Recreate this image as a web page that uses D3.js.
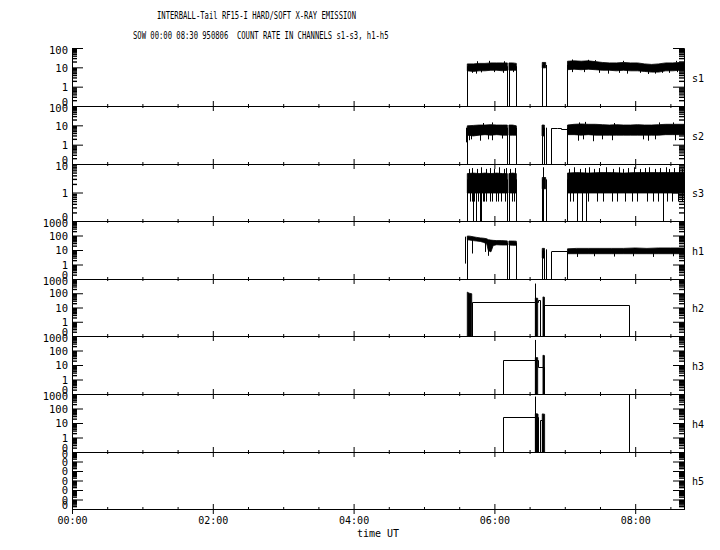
<!DOCTYPE html>
<html>
<head>
<meta charset="utf-8">
<script src="https://cdn.jsdelivr.net/npm/d3@7"></script>
<style>
body { margin: 0; background: #fff; }
svg { display: block; }
text { font-family: "DejaVu Sans Mono", monospace; fill: #000; }
</style>
</head>
<body>
<svg id="chart" width="720" height="550"></svg>
<script>
// ---- data (time in minutes after 00:00 UT, values in counts) ----
var channels = ["s1", "s2", "s3", "h1", "h2", "h3", "h4", "h5"];
var yMax = [100, 100, 10, 1000, 1000, 1000, 1000, 0.1];
var yMin = [0.1, 0.1, 0.1, 0.1, 0.1, 0.1, 0.1, 1e-7];
var xMajorTicks = [0, 120, 240, 360, 480];
var xMinorTicks = [30, 60, 90, 150, 180, 210, 270, 300, 330, 390, 420, 450, 510];
var xTickLabels = ["00:00", "02:00", "04:00", "06:00", "08:00"];
var tEnd = 521.6;

// bands: segments of [t, low, high]
var s1Band = [
  [[336.9,7,16],[342,6.5,16],[347,7,17],[352,7,17],[357,7.5,18],[362,7.5,18],[367,7,18],[371,7.5,18]],
  [[372.4,7.5,18],[375.5,7.5,18],[378.7,7.5,17]],
  [[400.8,10,19],[403.7,10,19]],
  [[422.3,8,22],[428,8.5,23],[434,8,22],[440,8.5,23],[446,8,21],[452,7.5,19],[458,7.5,18],[464,7,18],[470,7.5,19],
   [476,7,18],[482,7,18],[488,6.5,16],[494,6,15],[500,6,16],[506,7,18],[512,7,18],[518,7.5,19],[521.6,7.5,19]]
];
// vertical strokes: [t, from, to]
var s1Spikes = [
  [336.9,0,12],[371,0,12],[372.4,0,12],[378.7,0,12],[400.8,0,14],[403.7,0,14],[422.3,0,14],
  [341,5.5,8],[344.5,5,8],[349,5.8,8],[360,6,8.5],[367,5.5,8],[376,6,8.5],[426,6,9],[436,6,9],[449,5.5,8],
  [457,5,8],[466,5.5,8],[473,5,8],[484,5.5,8],[491,4.8,7],[497,5,7],[503,5.5,8],[509,5.5,8],[516,6,8.5],
  [345,16,22],[355,17,23],[368,17,22],[426,22,27],[440,22,26],[446,21,25],[470,19,23],[515,19,23]
];

var s2Band = [
  [[336.9,3.3,10],[342,3,10.5],[347,3.3,11],[352,3.5,11],[357,3.3,11.5],[362,3.5,11],[367,3.3,11],[371,3.3,11]],
  [[372.4,3.3,11],[375.5,3.3,11],[378.7,3.3,10]],
  [[400.6,3,11],[402.6,3,11]],
  [[422.3,3.5,11],[428,3.5,12],[434,3.3,12.5],[440,3.5,12],[446,3.3,12],[452,3.3,11.5],[458,3.3,11],[464,3.3,11.5],
   [470,3.3,11],[476,3.3,11],[482,3.3,11.5],[488,3.3,11],[494,3.3,11],[500,3.3,11.5],[506,3.5,12],[512,3.5,12],[521.6,3.5,12]]
];
var s2Steps = [[408.5,7.4],[413,7],[417,6.5],[422.3,6]];
var s2Spikes = [
  [335.5,1.4,8],[336.9,0,8],[371,0,8],[372.4,0,8],[378.7,0,8],[400.6,0,8],[402.6,0,8],[404.3,0,8],[408.5,0,7.4],[422.3,0,8],
  [338.4,1.8,4],[340,2,4],[347.7,1.7,4],[354.8,2,4],[357.7,1.8,4],[366.2,2.2,4],
  [431.5,1.7,4],[435.8,2,4],[444.3,1.6,4],[451.4,2,4],[460,1.8,4],[486.9,2,4],[491.2,1.7,4],[496.9,2,4],[513.9,1.8,4],
  [350,11,14],[358,11.5,15],[432,12,15],[437,12,16],[462,11,14],[500,11.5,15],[512,12,15]
];

var s3Band = [
  [[336.9,1,4.8],[342,1,5],[347,1,4.8],[352,1,5],[357,1,4.8],[362,1,5],[367,1,4.8],[371,1,4.8]],
  [[372.4,1,4.8],[375.5,1,5],[378.7,1,4.8]],
  [[400.8,1.4,3.5],[403.7,1.4,3.5]],
  [[422.3,1,5],[430,1,5.2],[440,1,5],[450,1,5.2],[460,1,5.2],[470,1,5],[480,1,5.2],[490,1,5.2],[500,1,5.2],[510,1,5.2],[521.6,1,5.2]]
];
var s3Spikes = [
  [336.9,0,3],[371,0,3],[372.4,0,3],[378.7,0,3],[400.8,0,3],[401.5,0,8],[403.7,0,3],[422.3,0,3],
  [342,0,1],[344,0,1],[347.7,0,1],[348.8,0,1],[430.7,0,1],[434.4,0,1],[438.1,0,1],[504,0,1],
  [339,0.5,1],[341,0.5,1],[343,0.5,1],[346,0.5,1],[350,0.5,1],[351.5,0.5,1],[353,0.5,1],[356,0.5,1],[358,0.5,1],
  [361,0.5,1],[363.5,0.5,1],[366,0.5,1],[369,0.5,1],[375,0.5,1],[377,0.5,1],
  [424.4,0.5,1],[427.3,0.5,1],[440,0.5,1],[447.2,0.5,1],[452.8,0.5,1],[459.9,0.5,1],[464.2,0.5,1],[471.3,0.5,1],
  [477,0.5,1],[481.2,0.5,1],[489.8,0.5,1],[495.4,0.5,1],[499.7,0.5,1],[506.8,0.5,1],[511.1,0.5,1],[516.8,0.5,1],[519.6,0.5,1],
  [338,4,7],[340.5,4,7.5],[345,4,7],[349,4,8],[352.5,4,7],[356.5,4,7.5],[360,4,7],[364,4,8],[368,4,7],[370,4,7.5],[373,4,7],[377.5,4,7.5],
  [424,4,7],[428,4,8],[433,4,7],[437,4,7.5],[441,4,8],[445,4,7],[449,4,7.5],[455,4,8],[461,4,7],[466,4,8],[470,4,7],
  [474,4,7.5],[479,4,8],[484,4,7],[488,4,7.5],[492,4,8],[497,4,7],[501,4,7.5],[506,4,8],[509,4,7],[513,4,7.5],[517,4,8],[520,4,7]
];

var h1Band = [
  [[336.9,55,100],[339,52,98],[342,48,88],[345,45,80],[348,42,74],[351,36,70],[353.5,28,64],[354.8,10,56],[357,8,52],
   [359,22,50],[362,25,48],[366,24,48],[371,24,46]],
  [[372.4,24,45],[375.5,23,45],[378.7,23,44]],
  [[400.8,3,14],[402.7,3,14]],
  [[422.3,6,13],[430,6,14],[440,6,14],[450,6,14],[460,6,14],[470,6,14],[480,6,15],[490,6,14],[500,6,15],[510,6,15],[521.6,6,15]]
];
var h1Steps = [[408.5,8.1],[422.3,8.1]];
var h1Spikes = [
  [335.2,1.25,90],[336.9,0,80],[340.7,6.2,60],[352,8,40],[354.3,4.3,40],[371,0,35],[372.4,0,35],[378.7,0,35],
  [400.8,0,10],[402.7,0,10],[404.3,0,12],[408.5,0,8.1],[422.3,0,8.1],
  [430,3.6,7],[445,4,7],[462,3.8,7],[478,4,7],[495,3.6,7],[512,4,7]
];

var h2Band = [
  [[336.9,0,130],[338.5,0,110],[340.7,0,100]],
  [[394.9,0,50],[396.9,0,48]],
  [[401.4,0,60],[402.7,0,57]]
];
var h2Steps = [[0,0],[340.7,24],[396.9,33],[399.1,0],[402.7,14],[475,0],[tEnd,0]];
var h2Spikes = [[394.9,0,520]];

var h3Band = [
  [[394.9,0,35],[396.9,0,35]],
  [[401.4,0,51],[402.7,0,48]]
];
var h3Steps = [[0,0],[367.6,22],[396.9,7.5],[402.7,0],[tEnd,0]];
var h3Spikes = [[394.9,0,580]];

var h4Band = [
  [[394.9,0,48],[397.2,0,45]],
  [[400.8,0,46],[402.8,0,44]]
];
var h4Steps = [[0,0],[367.6,24],[397.2,0],[399.1,15.6],[400.8,0],[tEnd,0]];
var h4Spikes = [[394.9,0,720],[475,0,5000]];

var panels = {
  s1: { band: s1Band, steps: null, spikes: s1Spikes },
  s2: { band: s2Band, steps: s2Steps, spikes: s2Spikes },
  s3: { band: s3Band, steps: null, spikes: s3Spikes },
  h1: { band: h1Band, steps: h1Steps, spikes: h1Spikes },
  h2: { band: h2Band, steps: h2Steps, spikes: h2Spikes },
  h3: { band: h3Band, steps: h3Steps, spikes: h3Spikes },
  h4: { band: h4Band, steps: h4Steps, spikes: h4Spikes },
  h5: { band: [], steps: null, spikes: [] }
};

// ---- layout ----
var svg = d3.select("#chart");
var plotLeft = 72, plotRight = 684, plotTop = 48.4, panelH = 57.6;
var x = d3.scaleLinear().domain([0, tEnd]).range([plotLeft, plotRight]);
var fmt = d3.format("d");

// titles
svg.append("text").attr("x", 157).attr("y", 18.5)
  .attr("font-size", 9.8).attr("textLength", 199).attr("lengthAdjust", "spacingAndGlyphs")
  .text("INTERBALL-Tail RF15-I HARD/SOFT X-RAY EMISSION");
svg.append("text").attr("x", 133).attr("y", 39)
  .attr("font-size", 9.8).attr("textLength", 255.5).attr("lengthAdjust", "spacingAndGlyphs")
  .style("white-space", "pre")
  .text("SOW 00:00 08:30 950806  COUNT RATE IN CHANNELS s1-s3, h1-h5");

channels.forEach(function(name, i) {
  // whole-pixel panel edges keep the frame lines crisp
  var top = Math.round(plotTop + i * panelH), bottom = Math.round(plotTop + (i + 1) * panelH);
  var lo = yMin[i];
  var y = d3.scaleLog().domain([lo, yMax[i]]).range([bottom, top]).clamp(true);
  var yv = function(v) { return y(Math.max(v, lo)); };
  var d = panels[name];

  var clipId = "clip-" + name;
  svg.append("clipPath").attr("id", clipId).append("rect")
    .attr("x", plotLeft).attr("y", top).attr("width", plotRight - plotLeft + 1).attr("height", bottom - top + 1);
  var g = svg.append("g").attr("clip-path", "url(#" + clipId + ")")
    .append("g").attr("transform", "translate(0,0.5)");

  var area = d3.area()
    .x(function(p) { return x(p[0]); })
    .y0(function(p) { return yv(p[1]); })
    .y1(function(p) { return yv(p[2]); });
  g.selectAll("path.band").data(d.band).enter().append("path")
    .attr("class", "band").attr("d", area)
    .attr("fill", "#000").attr("stroke", "#000").attr("stroke-width", 0.8);

  if (d.steps) {
    var line = d3.line()
      .x(function(p) { return Math.round(x(p[0])) + 0.5; })
      .y(function(p) { return Math.round(yv(p[1])); })
      .curve(d3.curveStepAfter);
    g.append("path").datum(d.steps).attr("d", line)
      .attr("fill", "none").attr("stroke", "#000").attr("stroke-width", 1);
  }

  g.selectAll("line.spike").data(d.spikes).enter().append("line")
    .attr("x1", function(p) { return Math.round(x(p[0])) + 0.5; })
    .attr("x2", function(p) { return Math.round(x(p[0])) + 0.5; })
    .attr("y1", function(p) { return yv(p[1]); })
    .attr("y2", function(p) { return yv(p[2]); })
    .attr("stroke", "#000").attr("stroke-width", 1);

  // log axis ticks
  var all = y.ticks();
  var majors = all.filter(function(t) { return Math.abs(Math.log10(t) - Math.round(Math.log10(t))) < 1e-6; });
  var minors = all.filter(function(t) { return majors.indexOf(t) < 0; });

  var axes = svg.append("g").attr("class", "axes");
  axes.append("g").attr("class", "minor").attr("transform", "translate(" + plotLeft + ",0)")
    .call(d3.axisLeft(y).tickValues(minors).tickSize(-5).tickSizeOuter(0).tickFormat(""));
  var left = axes.append("g").attr("transform", "translate(" + plotLeft + ",0)")
    .call(d3.axisLeft(y).tickValues(majors).tickSize(-11).tickSizeOuter(0).tickPadding(4).tickFormat(fmt));
  left.selectAll("text")
    .attr("font-family", "DejaVu Sans Mono, monospace").attr("font-size", 10.5)
    .attr("dy", function(t) {
      if (Math.abs(y(t) - bottom) < 0.5) return "-0.05em";
      if (Math.abs(y(t) - top) < 0.5) return "0.55em";
      return "0.35em";
    });
  axes.append("g").attr("class", "minor").attr("transform", "translate(" + plotRight + ",0)")
    .call(d3.axisRight(y).tickValues(minors).tickSize(-5).tickSizeOuter(0).tickFormat(""));
  axes.append("g").attr("transform", "translate(" + plotRight + ",0)")
    .call(d3.axisRight(y).tickValues(majors).tickSize(-11).tickSizeOuter(0).tickFormat(""));

  // time ticks
  if (i > 0) {
    axes.append("g").attr("transform", "translate(0," + top + ")")
      .call(d3.axisTop(x).tickValues(xMinorTicks).tickSize(-2).tickSizeOuter(0).tickFormat(""));
    axes.append("g").attr("transform", "translate(0," + top + ")")
      .call(d3.axisTop(x).tickValues(xMajorTicks).tickSize(-5).tickSizeOuter(0).tickFormat(""));
  }
  axes.append("g").attr("transform", "translate(0," + bottom + ")")
    .call(d3.axisBottom(x).tickValues(xMinorTicks).tickSize(-2).tickSizeOuter(0).tickFormat(""));
  axes.append("g").attr("transform", "translate(0," + bottom + ")")
    .call(d3.axisBottom(x).tickValues(xMajorTicks).tickSize(-5).tickSizeOuter(0).tickFormat(""));
  if (i === channels.length - 1) {
    var bx = axes.append("g").attr("transform", "translate(0," + bottom + ")")
      .call(d3.axisBottom(x).tickValues(xMajorTicks).tickSize(5).tickSizeOuter(0).tickPadding(3)
        .tickFormat(function(t, k) { return xTickLabels[k]; }));
    bx.selectAll("text").attr("font-family", "DejaVu Sans Mono, monospace").attr("font-size", 10);
  }

  // channel name on the right
  svg.append("text").attr("x", 692).attr("y", (top + bottom) / 2 + 4.5)
    .attr("font-size", 10).text(name);
});

svg.selectAll(".axes path, .axes line").attr("stroke", "#000").attr("stroke-width", 1);
svg.selectAll(".axes .minor line").attr("stroke-width", 1.4);

svg.append("text").attr("x", 357).attr("y", 537).attr("font-size", 10).text("time UT");
</script>
</body>
</html>
